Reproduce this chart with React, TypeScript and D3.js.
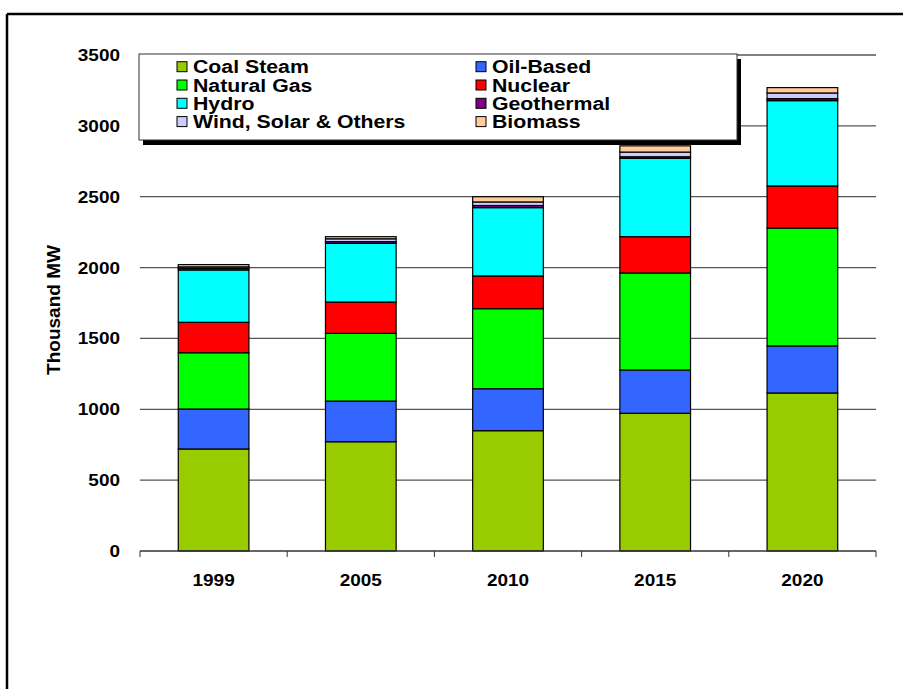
import React from "react";
import * as d3 from "d3";

const years = ["1999", "2005", "2010", "2015", "2020"];
const seriesNames = ["Coal Steam", "Oil-Based", "Natural Gas", "Nuclear", "Hydro", "Geothermal", "Wind, Solar & Others", "Biomass"];
const seriesColors = ["#99CC00", "#3366FF", "#00FF00", "#FF0000", "#00FFFF", "#800080", "#CCCCFF", "#FFCC99"];
const coal = [720, 771, 849, 972, 1115];
const oil = [282, 287, 296, 305, 332];
const gas = [397, 478, 565, 685, 832];
const nuclear = [215, 221, 231, 256, 297];
const hydro = [369, 414, 482, 553, 602];
const geothermal = [12, 12, 15, 11, 14];
const wind = [10, 20, 25, 33, 40];
const biomass = [16, 15, 37, 44, 38];
const yTicks = [0, 500, 1000, 1500, 2000, 2500, 3000, 3500];
const legendOrder = [0, 1, 2, 3, 4, 5, 6, 7];

const W = 903, H = 689;
const X0 = 140, X1 = 876, Y0 = 551, Y1 = 55;
const FONT = "'Liberation Sans', Arial, sans-serif";
const SX = 1.15;

export default function App() {
  const seriesVals = [coal, oil, gas, nuclear, hydro, geothermal, wind, biomass];
  const table = years.map((y, i) => {
    const row: any = { year: y };
    seriesNames.forEach((s, k) => (row[s] = seriesVals[k][i]));
    return row;
  });
  const stacked = d3.stack<any>().keys(seriesNames)(table);
  const x = d3.scaleBand<string>().domain(years).range([X0, X1]).paddingInner(0.52).paddingOuter(0.26);
  const xb = d3.scaleBand<string>().domain(years).range([X0, X1]);
  const y = d3.scaleLinear().domain([0, 3500]).range([Y0, Y1]);

  const lgX = 139, lgY = 54, lgW = 598, lgH = 86;
  const rowH = 18.3;

  return (
    <svg width={W} height={H} style={{ position: "absolute", left: 0, top: 0, background: "#fff" }} fontFamily={FONT}>
      <rect x={0} y={0} width={W} height={H} fill="#fff" />
      {/* outer frame */}
      <line x1={7} y1={14} x2={W} y2={14} stroke="#000" strokeWidth={2.5} />
      <line x1={7} y1={14} x2={7} y2={H} stroke="#000" strokeWidth={2.5} />

      {/* gridlines */}
      {yTicks.filter((t) => t > 0).map((t) => (
        <line key={t} x1={X0} x2={X1} y1={y(t)} y2={y(t)} stroke="#555" strokeWidth={1.3} />
      ))}

      {/* bars */}
      {stacked.map((layer, k) => (
        <g key={layer.key} fill={seriesColors[k]}>
          {layer.map((d, i) => (
            <rect key={i} x={x(years[i])} width={x.bandwidth()} y={y(d[1])} height={Math.max(0, y(d[0]) - y(d[1]))}
              stroke="#000" strokeWidth={1.2} />
          ))}
        </g>
      ))}

      {/* x axis */}
      <line x1={X0} x2={X1} y1={Y0} y2={Y0} stroke="#333" strokeWidth={1.3} />
      {years.map((yr) => (
        <line key={"t" + yr} x1={xb(yr)} x2={xb(yr)} y1={Y0} y2={Y0 + 6} stroke="#333" strokeWidth={1} />
      ))}
      <line x1={X1} x2={X1} y1={Y0} y2={Y0 + 6} stroke="#333" strokeWidth={1} />
      {years.map((yr) => (
        <text key={"l" + yr} transform={`translate(${xb(yr)! + xb.bandwidth() / 2},${586}) scale(${SX},1)`} textAnchor="middle"
          fontSize={16.5} fontWeight="bold">{yr}</text>
      ))}

      {/* y labels */}
      {yTicks.map((t) => (
        <text key={"y" + t} transform={`translate(120,${y(t) + 6}) scale(${SX},1)`} textAnchor="end" fontSize={16.5} fontWeight="bold">{t}</text>
      ))}
      <text transform={`translate(60,310) rotate(-90)`} textAnchor="middle" fontSize={19} fontWeight="bold">Thousand MW</text>

      {/* legend */}
      <rect x={lgX + 4} y={lgY + 5} width={lgW} height={lgH} fill="#000" />
      <rect x={lgX} y={lgY} width={lgW} height={lgH} fill="#fff" stroke="#333" strokeWidth={1} />
      {legendOrder.map((k) => {
        const col = k % 2, row = Math.floor(k / 2);
        const sx = col === 0 ? 177 : 476;
        const cy = 66.7 + row * rowH;
        return (
          <g key={"lg" + k}>
            <rect x={sx} y={cy - 5} width={10} height={10} fill={seriesColors[k]} stroke="#000" strokeWidth={1} />
            <text transform={`translate(${sx + 16},${cy + 6.6}) scale(${SX},1)`} fontSize={18.5} fontWeight="bold">{seriesNames[k]}</text>
          </g>
        );
      })}
    </svg>
  );
}
